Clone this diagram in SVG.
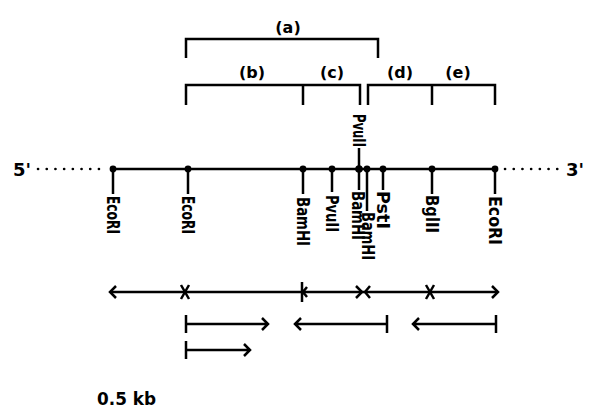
<svg xmlns="http://www.w3.org/2000/svg" width="591" height="415" viewBox="0 0 591 415">
<style>
.ln{stroke:#000;stroke-width:2.5;fill:none;stroke-linecap:butt}
.dot{stroke:#000;stroke-width:2.6;stroke-dasharray:0.1 8.6;stroke-linecap:round;fill:none}
.t{font-family:"DejaVu Sans","Liberation Sans",sans-serif;font-weight:bold;font-size:17px;fill:#000}
.lb{font-family:"DejaVu Sans","Liberation Sans",sans-serif;font-weight:bold;font-size:16px;fill:#000;text-anchor:middle}
.end{font-family:"DejaVu Sans","Liberation Sans",sans-serif;font-weight:bold;font-size:18px;fill:#000}
.site{fill:#000}
</style>
<rect width="591" height="415" fill="#fff"/>
<g id="connectors">
  <line class="ln" x1="113" y1="169" x2="495" y2="169"/>
  <line class="dot" x1="38" y1="169" x2="106" y2="169"/>
  <line class="dot" x1="505" y1="169" x2="564" y2="169"/>
  <path class="ln" d="M186,58 V39 H378 V58"/>
  <path class="ln" d="M186,105 V85 H360 V105 M303,85 V105"/>
  <path class="ln" d="M368,105 V85 H495 V105 M432,85 V105"/>
  <line class="ln" x1="113" y1="169" x2="113" y2="194"/>
  <line class="ln" x1="188" y1="169" x2="188" y2="194"/>
  <line class="ln" x1="303" y1="169" x2="303" y2="194"/>
  <line class="ln" x1="332" y1="169" x2="332" y2="192"/>
  <line class="ln" x1="359" y1="148" x2="359" y2="190"/>
  <line class="ln" x1="367" y1="169" x2="367" y2="211"/>
  <line class="ln" x1="383" y1="169" x2="383" y2="190"/>
  <line class="ln" x1="432" y1="169" x2="432" y2="194"/>
  <line class="ln" x1="495" y1="169" x2="495" y2="194"/>
  <line class="ln" x1="110" y1="292" x2="498" y2="292"/>
  <path class="ln" d="M116,286 L110,292 L116,298"/>
  <path class="ln" d="M181,285 L189,299 M189,285 L181,299"/>
  <path class="ln" d="M302,282 V302 M307,287 L303,292 L307,297"/>
  <path class="ln" d="M356,286 L362,292 L356,298"/>
  <path class="ln" d="M370,286 L365,292 L370,298"/>
  <path class="ln" d="M426,285 L434,299 M434,285 L426,299"/>
  <path class="ln" d="M492,286 L498,292 L492,298"/>
  <path class="ln" d="M186,315 V333 M186,324 H268 M262,318 L268,324 L262,330"/>
  <path class="ln" d="M387,315 V333 M387,324 H295 M301,318 L295,324 L301,330"/>
  <path class="ln" d="M496,315 V333 M496,324 H413 M419,318 L413,324 L419,330"/>
  <path class="ln" d="M186,341 V359 M186,350 H250 M244,344 L250,350 L244,356"/>
</g>
<g id="sites">
  <circle class="site" cx="113" cy="169" r="3.4"/>
  <circle class="site" cx="188" cy="169" r="3.4"/>
  <circle class="site" cx="303" cy="169" r="3.4"/>
  <circle class="site" cx="332" cy="169" r="3.4"/>
  <circle class="site" cx="359" cy="169" r="3.8"/>
  <circle class="site" cx="367" cy="169" r="3.4"/>
  <circle class="site" cx="383" cy="169" r="3.4"/>
  <circle class="site" cx="432" cy="169" r="3.4"/>
  <circle class="site" cx="495" cy="169" r="3.4"/>
</g>
<g id="ends">
  <text class="end" x="13" y="176">5'</text>
  <text class="end" x="566" y="176">3'</text>
</g>
<g id="site-labels">
  <g id="EcoRI-1"><text class="t" transform="translate(113,196) rotate(90)" y="6" textLength="38" lengthAdjust="spacingAndGlyphs">EcoRI</text></g>
  <g id="EcoRI-2"><text class="t" transform="translate(188,196) rotate(90)" y="6" textLength="38" lengthAdjust="spacingAndGlyphs">EcoRI</text></g>
  <g id="BamHI-1"><text class="t" transform="translate(303,197) rotate(90)" y="6" textLength="49" lengthAdjust="spacingAndGlyphs">BamHI</text></g>
  <g id="PvuII-1"><text class="t" transform="translate(332,195) rotate(90)" y="6" textLength="37" lengthAdjust="spacingAndGlyphs">PvuII</text></g>
  <g id="PvuII-2"><text class="t" transform="translate(359,114) rotate(90)" y="6" textLength="33" lengthAdjust="spacingAndGlyphs">PvuII</text></g>
  <g id="BamHI-2"><text class="t" transform="translate(358,191) rotate(90)" y="6" textLength="49" lengthAdjust="spacingAndGlyphs">BamHI</text></g>
  <g id="BamHI-3"><text class="t" transform="translate(368,212) rotate(90)" y="6" textLength="48" lengthAdjust="spacingAndGlyphs">BamHI</text></g>
  <g id="PstI"><text class="t" transform="translate(383,191) rotate(90)" y="6" textLength="38" lengthAdjust="spacingAndGlyphs">PstI</text></g>
  <g id="BglII"><text class="t" transform="translate(432,195) rotate(90)" y="6" textLength="38" lengthAdjust="spacingAndGlyphs">BglII</text></g>
  <g id="EcoRI-3"><text class="t" transform="translate(495,196) rotate(90)" y="6" textLength="49" lengthAdjust="spacingAndGlyphs">EcoRI</text></g>
</g>
<g id="bracket-labels">
  <text class="lb" x="288" y="33">(a)</text>
  <text class="lb" x="252" y="78">(b)</text>
  <text class="lb" x="332" y="78">(c)</text>
  <text class="lb" x="400" y="78">(d)</text>
  <text class="lb" x="458" y="78">(e)</text>
</g>
<g id="scale">
  <text class="end" x="97" y="405" textLength="59" lengthAdjust="spacingAndGlyphs">0.5 kb</text>
</g>
</svg>
